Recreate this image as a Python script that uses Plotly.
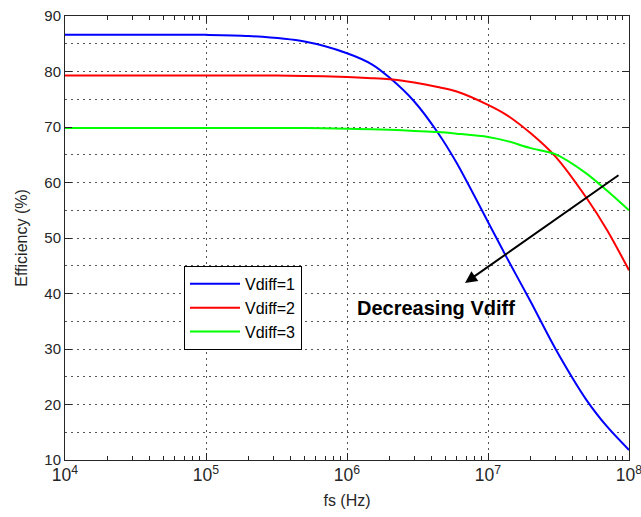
import plotly.graph_objects as go

fs = [1e4, 1e5, 2e5, 5e5, 1e6, 1.5e6, 2e6, 3e6, 4.4e6, 6e6, 1e7, 1.35e7, 2e7, 3e7, 5e7, 7e7, 1e8]
eff_v1 = [86.6, 86.6, 86.4, 85.4, 83.3, 81.3, 78.9, 74.6, 69.0, 63.5, 52.9, 46.6, 38.6, 30.1, 20.8, 16.0, 11.8]
eff_v2 = [79.3, 79.3, 79.3, 79.2, 79.0, 78.8, 78.6, 78.0, 77.2, 76.4, 74.0, 72.2, 68.9, 64.7, 57.2, 51.4, 44.2]
eff_v3 = [69.8, 69.8, 69.8, 69.8, 69.7, 69.6, 69.5, 69.3, 69.1, 68.8, 68.2, 67.5, 66.2, 65.1, 61.6, 58.5, 55.0]
series_names = ["Vdiff=1", "Vdiff=2", "Vdiff=3"]
colors = ["#0000ff", "#ff0000", "#00ff00"]

font = "Arial, Liberation Sans, sans-serif"
axc = "#262626"
gridc = "#555555"
fig = go.Figure()
for name, vals, c in zip(series_names, [eff_v1, eff_v2, eff_v3], colors):
    fig.add_trace(go.Scatter(x=fs, y=vals, mode="lines", name=name, legendgroup=name,
                             line=dict(color=c, width=2, shape="spline", smoothing=0.8)))

fig.add_annotation(x=6.837, y=41.9, ax=7.936, ay=61.5, xref="x", yref="y", axref="x", ayref="y",
                   showarrow=True, arrowhead=2, arrowsize=1.2, arrowwidth=2, arrowcolor="black", text="")
fig.add_annotation(x=6.63, y=37.4, xref="x", yref="y", text="<b>Decreasing Vdiff</b>", showarrow=False,
                   font=dict(family=font, size=20, color="black"))

axis_common = dict(showline=True, linecolor=axc, linewidth=1, mirror="ticks", ticks="inside",
                   tickcolor=axc, showgrid=True, gridcolor=gridc, griddash="2px,4px", gridwidth=1,
                   zeroline=False)

fig.update_xaxes(type="log", range=[4, 8], dtick=1, exponentformat="power", ticklen=7,
                 ticklabeloverflow="allow", tickfont=dict(family=font, size=14, color=axc),
                 minor=dict(ticks="inside", ticklen=4, dtick="D1", tickcolor=axc, showgrid=False),
                 title=dict(text="fs (Hz)", font=dict(family=font, size=16, color=axc), standoff=10),
                 **axis_common)
fig.update_yaxes(range=[10, 90], dtick=10, ticklen=7, tickfont=dict(family=font, size=15, color=axc),
                 minor=dict(dtick=5, ticks="", showgrid=True, gridcolor=gridc, griddash="2px,4px"),
                 title=dict(text="Efficiency (%)", font=dict(family=font, size=16, color=axc), standoff=12),
                 **axis_common)

fig.update_layout(width=641, height=517, margin=dict(l=65, r=12, t=16, b=57, autoexpand=False),
                  paper_bgcolor="white", plot_bgcolor="white",
                  font=dict(family=font, color=axc),
                  legend=dict(x=0.211, y=0.437, xanchor="left", yanchor="top", bgcolor="white",
                              bordercolor="black", borderwidth=1, font=dict(family=font, size=16, color="black"),
                              tracegroupgap=0, itemwidth=50))
fig.write_html("out.html", config={"displayModeBar": False},
               post_script="document.body.style.margin='0px';")
